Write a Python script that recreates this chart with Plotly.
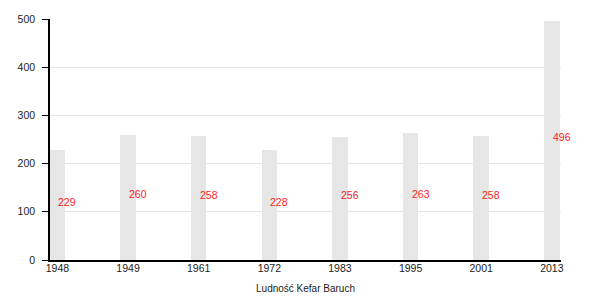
import plotly.graph_objects as go

years = ["1948", "1949", "1961", "1972", "1983", "1995", "2001", "2013"]
population = [229, 260, 258, 228, 256, 263, 258, 496]
axis_title = "Ludność Kefar Baruch"

fig = go.Figure()
fig.add_trace(go.Bar(
    x=years, y=population, width=0.22,
    marker=dict(color="#e6e6e6", line=dict(width=0)),
    hoverinfo="skip", showlegend=False,
))
for i, v in enumerate(population):
    fig.add_annotation(x=i, y=v / 2, text=str(v), showarrow=False,
                       xanchor="left", yanchor="middle", xshift=-1, yshift=3,
                       font=dict(color="#ff1a1a", size=10.5, family="Liberation Sans"))

fig.update_layout(
    width=600, height=300,
    margin=dict(l=50, r=39, t=19, b=40),
    paper_bgcolor="white", plot_bgcolor="white",
    font=dict(family="Liberation Sans", size=10, color="#222"),
    bargap=0,
    xaxis=dict(type="category", range=[-0.105, 7.13], showgrid=False,
               showline=True, linecolor="black", linewidth=1.5,
               ticks="", tickfont=dict(size=10.5, color="#222"), automargin=False,
               ticklabelstandoff=-2,
               title=dict(text=axis_title, font=dict(size=10, color="#222"), standoff=12)),
    yaxis=dict(range=[0, 500], tickvals=[0, 100, 200, 300, 400, 500],
               showgrid=True, gridcolor="#e6e6e6", gridwidth=1,
               showline=True, linecolor="black", linewidth=1.5, automargin=False,
               ticks="outside", ticklen=6, tickcolor="black", ticklabelstandoff=5,
               tickfont=dict(size=10.5, color="#222"), zeroline=False),
)
fig.write_html("out.html")
